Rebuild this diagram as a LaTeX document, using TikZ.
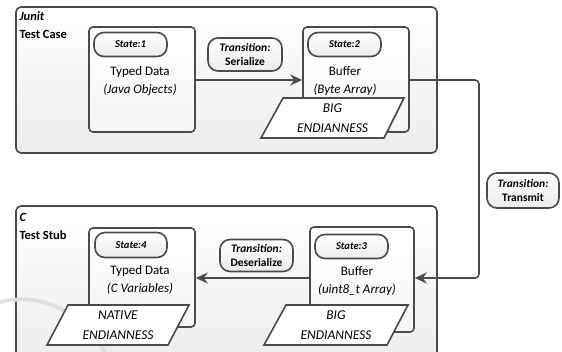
\documentclass[tikz,border=0pt]{standalone}
\usepackage{fontspec}
\setmainfont{Carlito}
\usetikzlibrary{arrows.meta}
\definecolor{edge}{HTML}{4a4a4a}
\begin{document}
\begin{tikzpicture}[x=1pt,y=-1pt,
  container/.style={draw=edge, line width=1.6pt, rounded corners=5pt, top color=white, bottom color=gray!15, inner sep=0pt},
  statebox/.style={draw=edge, line width=1.6pt, rounded corners=4pt, top color=white, bottom color=gray!8, inner sep=0pt},
  pill/.style={draw=edge, line width=1.6pt, rounded corners=10pt, top color=white, bottom color=gray!15, inner sep=0pt, align=center, font=\fontsize{10.5}{12.5}\selectfont\bfseries},
  trpill/.style={pill, font=\fontsize{11.5}{13.5}\selectfont\bfseries},
  para/.style={draw=edge, line width=1.6pt, fill=white},
  paratext/.style={align=center, font=\fontsize{13.5}{20}\selectfont\itshape},
  bodytext/.style={align=center, font=\fontsize{13}{18}\selectfont},
  lab/.style={anchor=west, font=\fontsize{12.5}{13}\selectfont\bfseries},
  conn/.style={draw=edge, line width=1.6pt, -{Stealth[length=12pt,width=11pt,inset=4pt]}}
]
\useasboundingbox (0,0) rectangle (562,351);
\clip (0,0) rectangle (562,351);

% containers
\node[container, minimum width=421pt, minimum height=146pt] (tc) at (226.5,80) {};
\node[container, minimum width=421pt, minimum height=160pt] (ts) at (226.5,286) {};
\node[lab] (tcl1) at (16,16) {\itshape Junit};
\node[lab] (tcl2) at (16,34) {Test Case};
\node[lab] (tsl1) at (16,217) {\itshape C};
\node[lab] (tsl2) at (16,235) {Test Stub};

% watermark arc
\draw[gray!25, line width=4pt] (-5,303) .. controls (35,292) and (80,305) .. (108,358);

% coordinates for connectors
\coordinate (bend1) at (479,80);
\coordinate (bend2) at (479,278);

% state boxes
\node[statebox, minimum width=106pt, minimum height=105pt] (s1) at (142,79.5) {};
\node[statebox, minimum width=106pt, minimum height=105pt] (s2) at (356,79.5) {};
\node[statebox, minimum width=104pt, minimum height=105pt] (s3) at (362,279.5) {};
\node[statebox, minimum width=106pt, minimum height=99pt] (s4) at (142,277.5) {};

% connectors
\draw[conn] (s1.east |- bend1) -- (s2.west |- bend1);
\draw[conn, rounded corners=4pt] (s2.east |- bend1) -- (bend1) -- (bend2) -- (s3.east |- bend2);
\draw[conn] (s3.west |- bend2) -- (s4.east |- bend2);

% state pills
\node[pill, minimum width=73pt, minimum height=24pt] (p1) at (130.5,44.5) {\itshape State:1};
\node[pill, minimum width=73pt, minimum height=24pt] (p2) at (344.5,44.5) {\itshape State:2};
\node[pill, minimum width=73pt, minimum height=24pt] (p3) at (351.5,246.5) {\itshape State:3};
\node[pill, minimum width=72pt, minimum height=25pt] (p4) at (131,245) {\itshape State:4};

% body texts
\node[bodytext] (t1) at (140,81) {Typed Data\\\itshape (Java Objects)};
\node[bodytext] (t2) at (345,81) {Buffer\\\itshape (Byte Array)};
\node[bodytext] (t3) at (357,281) {Buffer\\\itshape (uint8\_t Array)};
\node[bodytext] (t4) at (140,280) {Typed Data\\\itshape (C Variables)};

% parallelograms
\draw[para] (261,138) -- (283,98) -- (404,98) -- (384,138) -- cycle;
\node[paratext] (e2) at (332.5,118) {BIG\\ENDIANNESS};
\draw[para] (264,345) -- (286,305) -- (408,305) -- (387,345) -- cycle;
\node[paratext] (e3) at (336,325) {BIG\\ENDIANNESS};
\draw[para] (47,345) -- (68,305) -- (189,305) -- (168,345) -- cycle;
\node[paratext] (e4) at (118,325) {NATIVE\\ENDIANNESS};

% transition pills
\node[trpill, minimum width=74pt, minimum height=33pt] (tr1) at (245,54.5) {\itshape Transition:\\Serialize};
\node[trpill, minimum width=73pt, minimum height=32pt] (tr2) at (256.5,255.5) {\itshape Transition:\\Deserialize};
\node[trpill, minimum width=72pt, minimum height=35pt] (tr3) at (523,190.5) {\itshape Transition:\\Transmit};
\end{tikzpicture}
\end{document}
